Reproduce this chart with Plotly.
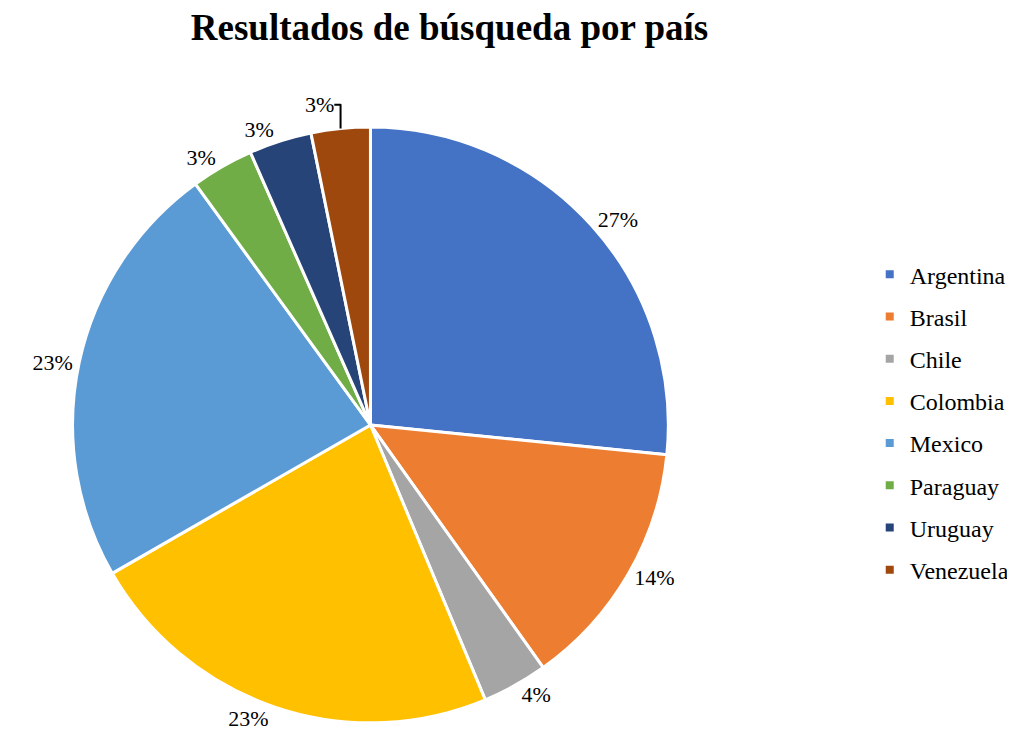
import plotly.graph_objects as go

paises = ["Argentina", "Brasil", "Chile", "Colombia", "Mexico", "Paraguay", "Uruguay", "Venezuela"]
porcentajes = [26.6, 13.55, 3.55, 23.0, 23.3, 3.4, 3.4, 3.2]
colores = ["#4472C4", "#ED7D31", "#A5A5A5", "#FFC000", "#5B9BD5", "#70AD47", "#264478", "#9E480E"]

FONT = "Liberation Serif"

fig = go.Figure()
fig.add_trace(go.Pie(
    labels=paises,
    values=porcentajes,
    sort=False,
    direction="clockwise",
    rotation=0,
    marker=dict(colors=colores, line=dict(color="white", width=3)),
    texttemplate="%{percent:.0%}",
    textposition="outside",
    textfont=dict(family=FONT, size=22, color="#000000"),
    showlegend=False,
    hoverinfo="label+percent",
    domain=dict(x=[0.0201, 0.6941], y=[0.0456, 0.841]),
))

for p, c in zip(paises, colores):
    fig.add_trace(go.Scatter(
        x=[None], y=[None], mode="markers", name=p,
        marker=dict(symbol="square", size=8, color=c),
        legendgroup=p, showlegend=True,
    ))

fig.update_layout(
    width=1015, height=749,
    margin=dict(l=0, r=0, t=0, b=0, autoexpand=False),
    paper_bgcolor="white", plot_bgcolor="white",
    title=dict(text="<b>Resultados de búsqueda por país</b>", x=0.435, xanchor="center",
               y=0.975, yanchor="middle",
               font=dict(family=FONT, size=37, color="#000000")),
    xaxis=dict(visible=False), yaxis=dict(visible=False),
    legend=dict(x=0.849, xanchor="left", y=0.447, yanchor="middle",
                font=dict(family=FONT, size=24, color="#000000"),
                tracegroupgap=8, itemclick=False, bgcolor="rgba(0,0,0,0)"),
)

fig.write_html("out.html")
